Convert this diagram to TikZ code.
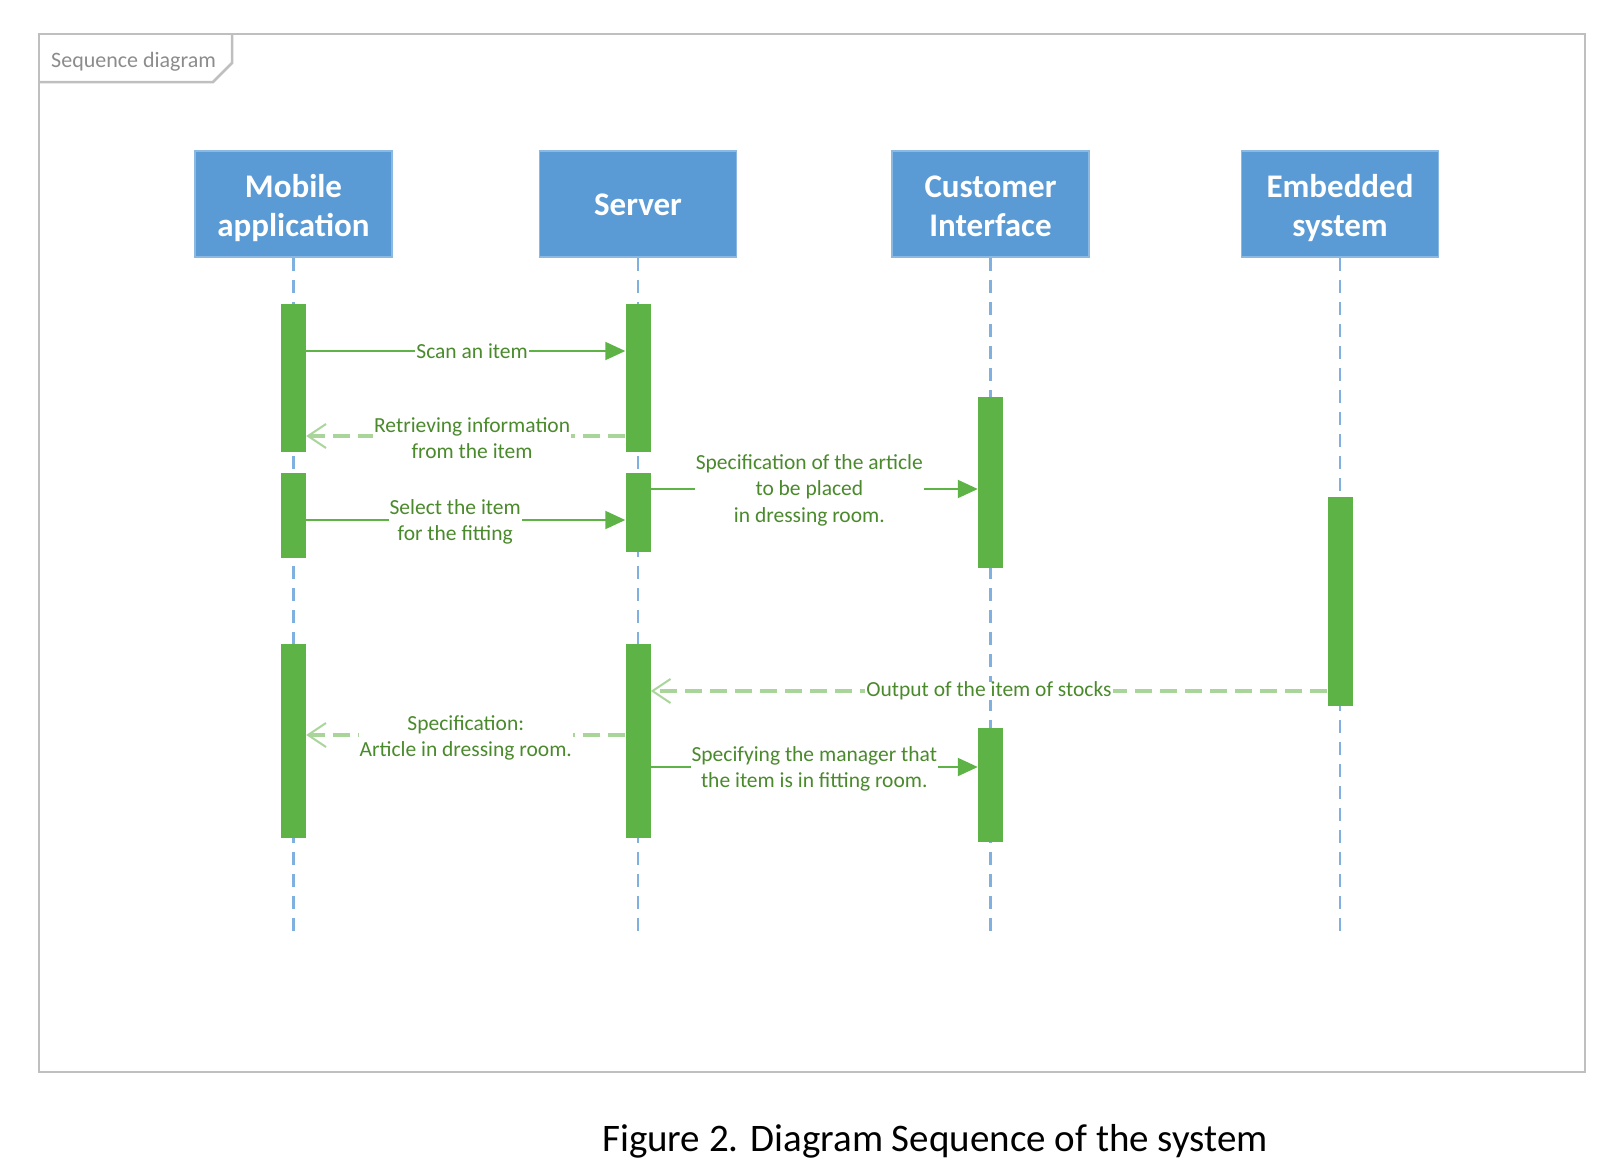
\documentclass[tikz,border=0pt]{standalone}
\usepackage{fontspec}
\setmainfont{Carlito}
\usetikzlibrary{arrows.meta}
\definecolor{hdrblue}{HTML}{5B9BD5}
\definecolor{lifeblue}{HTML}{7FB0E0}
\definecolor{bargreen}{HTML}{5DB346}
\definecolor{retgreen}{HTML}{A9D59A}
\definecolor{txtgreen}{HTML}{4A8A2C}
\definecolor{framegray}{HTML}{BFBFBF}
\definecolor{tabtext}{HTML}{8C8C8C}
\tikzset{
  hdr/.style={draw=hdrblue!70!white, line width=1.5pt, fill=hdrblue,
    minimum width=197pt, minimum height=106pt, inner sep=0pt},
  hdrtext/.style={text=white, font=\fontsize{33}{39}\selectfont\bfseries, align=center, inner sep=0pt},
  lifeline/.style={draw=lifeblue, line width=2.5pt, dash pattern=on 13pt off 9pt},
  actbar/.style={fill=bargreen, draw=none, minimum width=25pt, inner sep=0pt, anchor=north},
  callmsg/.style={draw=bargreen, line width=2pt, -{Triangle[length=20pt,width=18pt]}},
  retmsg/.style={draw=retgreen, line width=3.5pt, dash pattern=on 17pt off 8pt,
    -{Straight Barb[length=18pt,width=24pt,line width=2pt]}},
  msglabel/.style={fill=white, text=txtgreen, font=\fontsize{21.5}{26.5}\selectfont,
    align=center, inner xsep=1pt, inner ysep=0pt},
  framebox/.style={draw=framegray, line width=2.5pt}
}
\begin{document}
\begin{tikzpicture}[x=1pt,y=-1pt]
\useasboundingbox (0,0) rectangle (1608,1168);
% frame
\draw[framebox] (39,34) rectangle (1585,1072);
\draw[framebox] (39,82) -- (213,82) -- (232,63) -- (232,34);
\node[anchor=base west, text=tabtext, font=\fontsize{22}{26}\selectfont, inner sep=0pt] (tabtxt) at (51,67) {Sequence diagram};
% headers
\node[hdr] (mob) at (293.5,204) {};
\node[hdr] (srv) at (638,204) {};
\node[hdr] (cus) at (990.5,204) {};
\node[hdr] (emb) at (1340,204) {};
\node[hdrtext] (mobt) at ([yshift=-4pt]mob.center) {Mobile\\application};
\node[hdrtext] (srvt) at ([yshift=-1pt]srv.center) {Server};
\node[hdrtext] (cust) at ([yshift=-2pt]cus.center) {Customer\\Interface};
\node[hdrtext] (embt) at ([yshift=-4pt]emb.center) {Embedded\\system};
% lifelines
\draw[lifeline] (mob.south) -- (mob.south |- 0,933);
\draw[lifeline] (srv.south) -- (srv.south |- 0,933);
\draw[lifeline] (cus.south) -- (cus.south |- 0,933);
\draw[lifeline] (emb.south) -- (emb.south |- 0,933);
% activation bars
\node[actbar, minimum height=148pt] (mb1) at (293.5,304) {};
\node[actbar, minimum height=85pt]  (mb2) at (293.5,473) {};
\node[actbar, minimum height=194pt] (mb3) at (293.5,644) {};
\node[actbar, minimum height=148pt] (sb1) at (638,304) {};
\node[actbar, minimum height=79pt]  (sb2) at (638,473) {};
\node[actbar, minimum height=194pt] (sb3) at (638,644) {};
\node[actbar, minimum height=171pt] (cb1) at (990.5,397) {};
\node[actbar, minimum height=114pt] (cb2) at (990.5,728) {};
\node[actbar, minimum height=209pt] (eb1) at (1340,497) {};
% messages
\draw[callmsg] (mb1.east |- 0,351) -- node[msglabel, pos=0.52] (l1) {Scan an item} (sb1.west |- 0,351);
\draw[retmsg] (sb1.west |- 0,436) -- node[msglabel, pos=0.48, yshift=-2pt] (l2) {Retrieving information\\from the item} (mb1.east |- 0,436);
\draw[callmsg] (mb2.east |- 0,520) -- node[msglabel, pos=0.467, yshift=-2pt] (l3) {Select the item\\for the fitting} (sb2.west |- 0,520);
\draw[callmsg] (sb2.east |- 0,489) -- node[msglabel, pos=0.485, yshift=-1pt] (l4) {Specification of the article\\to be placed\\in dressing room.} (cb1.west |- 0,489);
\draw[retmsg] (eb1.west |- 0,691) -- node[msglabel, pos=0.5] (l5) {Output of the item of stocks} (sb3.east |- 0,691);
\draw[retmsg] (sb3.west |- 0,735) -- node[msglabel, pos=0.5, yshift=-3pt] (l6) {Specification:\\Article in dressing room.} (mb3.east |- 0,735);
\draw[callmsg] (sb3.east |- 0,767) -- node[msglabel, pos=0.5, yshift=-2pt] (l7) {Specifying the manager that\\the item is in fitting room.} (cb2.west |- 0,767);
% caption
\node[anchor=base, font=\fontsize{39}{47}\selectfont, inner sep=0pt] (cap) at (935,1151) {Figure 2. Diagram Sequence of the system};
\end{tikzpicture}
\end{document}
